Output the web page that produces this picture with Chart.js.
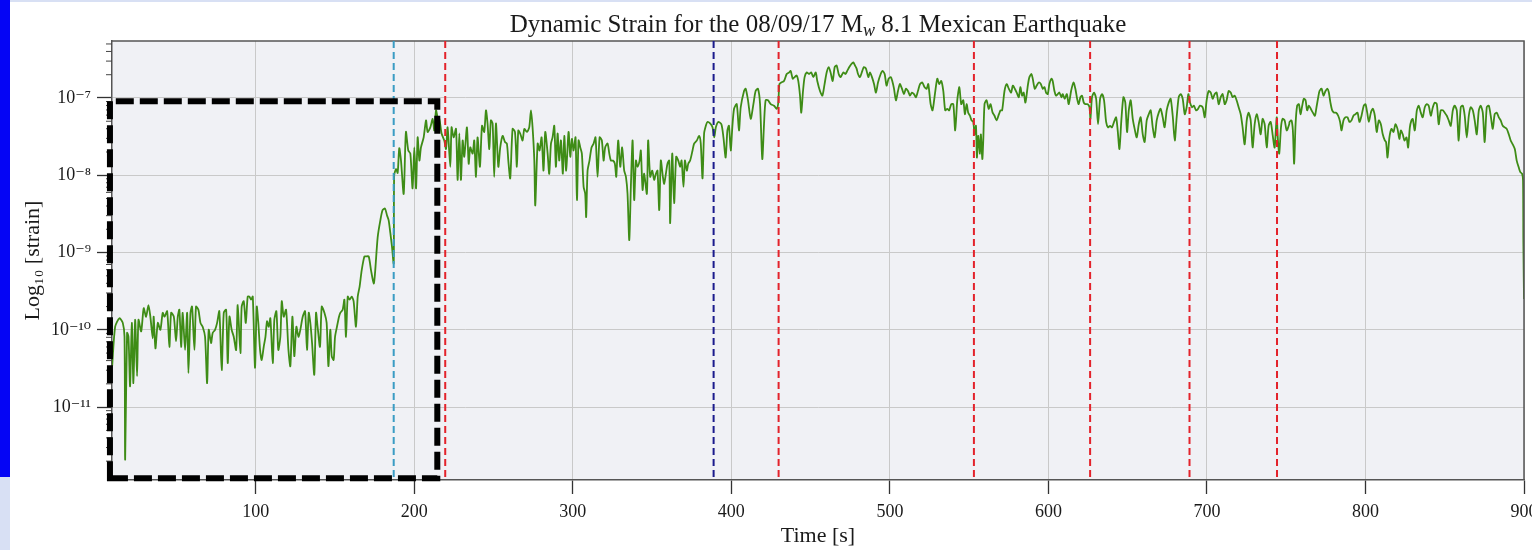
<!DOCTYPE html>
<html><head><meta charset="utf-8">
<script src="https://cdn.jsdelivr.net/npm/chart.js@4.4.1/dist/chart.umd.min.js"></script>
<style>
html,body{margin:0;padding:0;background:#fff;overflow:hidden;width:1532px;height:550px;}
#blue{position:absolute;left:0;top:0;width:10px;height:477px;background:#0505f5;}
#lav1{position:absolute;left:0;top:477px;width:10px;height:73px;background:#d8e0f4;}
#lav2{position:absolute;left:10px;top:0;width:1522px;height:2px;background:#d8e0f4;}
#c{position:absolute;left:0;top:0;}
</style></head>
<body>
<div id="blue"></div><div id="lav1"></div><div id="lav2"></div>
<canvas id="c" width="1545" height="550"></canvas>
<script>
// ---- data (time in s, log10 strain) ----
const timeA = [9.4,11.3,14.0,16.1,17.2,17.6,18.8,19.7,20.7,21.8,22.8,23.9,25.1,26.0,27.7,29.3,30.8,32.3,33.5,35.0,
35.6,36.7,38.2,39.8,41.3,42.4,44.1,45.5,46.6,48.3,49.7,50.8,51.8,52.9,53.9,55.4,56.7,57.5,58.8,59.8,
61.3,62.3,63.8,65.1,66.5,68.0,69.3,70.3,71.8,72.8,74.3,75.6,77.0,78.5,79.8,81.3,82.3,83.4,84.8,86.1,
87.6,88.6,90.3,91.1,92.4,93.7,94.9,96.0,97.0,98.1,99.5,100.6,101.6,102.7,103.7,105.0,106.1,107.1,108.2,109.2,
110.7,111.7,113.0,114.2,115.5,116.4,117.6,119.1,120.6,121.8,123.1,124.3,125.6,126.9,128.1,129.6,131.1,132.3,133.4,134.4,
135.5,136.9,138.0,139.0,140.5,141.6,143.3,144.7,145.8,147.0,147.9,149.1,150.0,151.2,152.5,153.3,154.8,155.9,156.9,158.0,
159.2,160.5,161.7,163.2,164.3,165.5,166.8,168.5,169.5,171.2,172.7,174.4,175.2,176.9,178.6,180.0,181.5,182.8,183.8,184.9,
185.9,187.0,187.3,188.5,189.5,190.5];
const strainA = [-10.47,-9.96,-9.85,-9.91,-10.09,-11.68,-10.04,-10.09,-10.73,-9.91,-10.69,-9.87,-10.60,-9.87,-10.02,-9.72,-9.83,-9.68,-9.83,-10.11,
-9.83,-10.24,-9.91,-10.00,-9.78,-9.83,-9.76,-10.22,-9.78,-9.83,-10.15,-9.83,-9.74,-10.22,-9.78,-10.26,-9.78,-10.56,-9.78,-9.70,
-10.26,-9.70,-9.74,-9.91,-9.96,-10.09,-10.69,-10.00,-10.17,-10.04,-10.00,-9.91,-9.76,-10.52,-9.78,-9.74,-10.43,-9.83,-10.00,-10.09,
-10.26,-9.68,-10.30,-9.70,-9.63,-9.91,-9.57,-9.57,-9.61,-9.57,-10.49,-9.70,-9.91,-10.26,-10.39,-10.22,-10.09,-9.89,-9.96,-9.85,
-10.43,-9.87,-9.76,-10.26,-10.09,-9.63,-9.83,-9.74,-10.26,-10.47,-9.83,-10.34,-9.96,-10.09,-10.00,-9.83,-9.76,-10.26,-9.78,-9.91,
-10.17,-10.58,-9.78,-9.96,-10.22,-9.70,-9.78,-9.91,-10.47,-10.00,-10.34,-10.39,-10.09,-9.96,-9.83,-9.78,-9.74,-9.61,-10.09,-9.57,
-9.61,-9.57,-9.63,-9.96,-9.57,-9.44,-9.23,-9.05,-9.05,-9.05,-9.23,-9.40,-9.27,-8.80,-8.58,-8.45,-8.43,-8.52,-8.58,-8.75,
-8.92,-9.14,-8.00,-7.92,-7.97,-7.65];

const timeB = [191.6,193.3,194.7,196.2,197.5,198.9,200.0,201.1,202.1,203.2,
204.2,205.9,207.4,208.4,210.1,211.6,212.6,213.7,214.7,215.8,
217.2,218.9,220.0,221.0,222.7,223.5,224.8,226.3,227.3,228.4,
229.4,230.5,231.5,233.2,234.3,235.3,236.8,237.8,238.9,239.9,
241.4,242.7,244.1,245.2,246.2,247.3,248.3,249.4,250.4,251.5,
253.0,254.2,255.7,257.2,258.4,259.3,260.5,262.0,263.5,264.7,
265.6,266.8,268.3,269.4,271.0,272.5,273.6,274.6,275.7,276.3,
277.8,279.0,280.3,281.5,282.6,284.1,285.1,286.2,287.2,288.3,
289.3,290.4,291.4,292.5,293.7,294.6,295.8,297.3,298.4,299.4,
300.5,301.7,302.6,303.6,304.7,305.7,306.8,307.8,308.4,309.3,
310.5,311.8,313.1,314.3,315.6,316.9,318.3,319.4,320.4,321.9,
323.0,324.0,325.3,326.5,327.4,328.6,329.9,331.1,332.4,333.5,
334.5,335.6,336.6,337.7,338.7,339.8,340.8,342.1,342.9,344.0,
345.0,346.7,347.5,348.8,350.1,351.3,352.4,353.4,354.5,355.5,
356.8,357.6,358.7,359.7,360.8,361.4,362.7,363.9,365.2,366.5,
367.7,368.6,369.8,370.7,371.9,372.8,374.0,375.5,376.5,378.2,
379.7,380.7,381.8,382.8,383.9,384.9,386.6,388.1,389.2,390.2,
391.7];
const strainB = [-7.81,-8.24,-7.44,-7.68,-7.72,-8.17,-7.64,-8.17,-7.51,-7.81,
-7.64,-7.51,-7.29,-7.44,-7.38,-7.27,-7.42,-7.16,-7.25,-7.27,
-7.46,-7.55,-7.66,-7.38,-7.89,-7.38,-7.51,-7.40,-8.06,-7.46,
-8.06,-7.55,-7.76,-7.38,-7.85,-7.64,-7.72,-7.55,-8.02,-7.51,
-7.89,-7.36,-7.44,-7.16,-7.33,-7.66,-7.29,-7.33,-8.02,-7.33,
-7.89,-7.64,-7.49,-7.57,-7.59,-7.81,-8.04,-7.40,-7.44,-7.89,
-7.42,-7.46,-7.55,-7.40,-7.44,-7.38,-7.16,-7.38,-7.81,-8.39,
-7.59,-7.68,-7.51,-7.94,-7.44,-7.72,-7.98,-7.59,-7.51,-7.36,
-7.89,-7.46,-7.81,-7.55,-7.98,-7.49,-7.94,-7.44,-7.76,-7.53,
-7.68,-7.51,-8.32,-7.55,-7.64,-7.72,-8.15,-8.24,-8.54,-7.94,
-7.81,-7.64,-7.59,-7.51,-8.02,-7.51,-7.55,-7.81,-7.64,-7.59,
-7.72,-7.81,-7.81,-7.85,-8.02,-7.55,-7.89,-7.64,-7.94,-8.02,
-8.24,-8.84,-8.15,-7.55,-8.32,-7.81,-7.89,-7.81,-7.68,-8.19,
-7.98,-8.24,-7.55,-8.02,-7.94,-8.06,-7.98,-7.94,-8.45,-7.81,
-8.02,-8.11,-7.98,-7.85,-7.81,-8.62,-7.72,-8.36,-7.76,-7.81,
-7.89,-7.81,-8.15,-7.81,-7.94,-7.85,-7.81,-7.68,-7.59,-7.55,
-7.49,-7.59,-8.04,-7.46,-7.36,-7.31,-7.33,-7.38,-7.51,-7.38,
-7.31];

const timeC = [393.7,395.0,396.4,397.5,398.5,399.6,400.6,401.7,403.4,404.8,
405.9,408.0,409.0,410.5,412.2,413.9,415.3,416.8,418.1,419.5,
420.6,421.6,423.1,424.8,426.9,428.6,429.6,430.3,431.5,433.2,
434.9,436.4,437.4,438.7,439.9,441.2,442.2,443.3,444.1,445.2,
446.2,447.5,449.0,450.4,451.7,453.2,454.2,455.9,457.4,458.8,
460.1,461.4,462.6,463.9,465.2,466.4,467.7,468.9,470.6,471.9,
473.1,474.4,475.7,476.9,478.0,479.0,479.9,481.1,482.6,483.6,
484.9,486.4,487.4,488.7,490.0,491.2,492.5,494.2,495.4,496.7,
497.9,499.2,500.5,501.5,502.6,503.8,505.1,506.3,507.6,508.9,
510.1,511.4,512.7,513.9,515.2,516.4,517.7,519.0,520.4,521.9,
523.2,524.2,525.7,526.9,528.4,529.9,531.1,532.4,533.7,534.9,
536.2,537.4,538.7,540.0,541.2,542.5,543.8,545.0,546.3,547.3,
548.4,549.4,550.5,551.5,552.6,553.4,554.3,554.9,555.7,556.8,
557.4,558.3,558.9,559.7,561.0,562.3,563.5,564.8,566.0,567.3,
568.8,569.8];
const strainC = [-7.34,-7.51,-7.77,-7.42,-7.36,-7.68,-7.38,-7.14,-7.08,-7.42,
-7.12,-6.91,-6.88,-7.03,-7.27,-7.08,-6.91,-6.88,-7.08,-7.79,
-7.34,-7.03,-7.03,-7.08,-7.10,-7.14,-7.06,-6.82,-6.80,-6.78,
-6.69,-6.67,-6.65,-6.75,-6.73,-6.71,-6.78,-6.97,-7.19,-6.91,
-6.73,-6.67,-6.69,-6.67,-6.73,-6.67,-6.78,-6.91,-6.97,-6.82,
-6.67,-6.60,-6.67,-6.78,-6.60,-6.58,-6.69,-6.73,-6.67,-6.69,
-6.65,-6.60,-6.56,-6.54,-6.58,-6.62,-6.69,-6.73,-6.65,-6.60,
-6.62,-6.73,-6.67,-6.73,-6.82,-6.93,-6.80,-6.69,-6.65,-6.69,
-6.84,-6.75,-6.73,-6.78,-6.88,-7.03,-6.91,-6.82,-6.88,-6.95,
-6.88,-6.91,-6.97,-6.93,-6.95,-6.99,-6.91,-6.82,-6.80,-6.86,
-6.88,-6.82,-7.08,-7.16,-6.95,-6.75,-6.82,-6.78,-6.91,-7.16,
-7.14,-7.16,-7.08,-7.08,-7.42,-7.03,-6.86,-7.08,-7.03,-7.21,
-7.08,-7.19,-7.23,-7.29,-7.31,-7.47,-7.36,-7.77,-7.49,-7.72,
-7.47,-7.79,-7.55,-7.08,-7.03,-7.14,-7.08,-7.19,-7.23,-7.29,
-7.21,-7.16];

const timeD = [570.8,572.3,573.7,575.0,576.5,577.5,578.8,580.0,581.3,582.3,
583.4,584.4,585.5,587.0,588.0,589.3,590.1,591.4,592.6,593.9,
595.2,596.4,597.5,598.5,599.6,600.6,601.9,602.7,603.8,604.8,
605.9,606.9,608.2,609.0,610.3,611.6,612.8,614.3,615.8,617.0,
618.1,619.1,620.2,621.2,622.3,623.3,624.8,625.9,626.5,627.5,
628.8,630.1,631.3,632.6,633.8,635.1,636.4,637.6,638.9,640.1,
641.4,642.7,643.7,644.8,646.0,647.3,648.5,649.6,650.7,651.9,
653.2,654.4,655.7,657.0,658.2,659.5,660.7,662.0,663.3,664.5,
665.8,667.0,668.3,669.6,670.8,672.1,673.3,674.6,675.9,677.1,
678.4,679.7,680.9,682.2,683.4,684.7,686.0,687.2,688.3,689.3,
690.6,691.8,693.1,694.4,695.6,697.3,698.6,699.8,701.1,702.4,
703.6,704.9,706.1,707.4,708.7,709.9,711.2,712.4,713.7,715.0,
716.2,717.5,718.7,720.0,721.3,722.5,723.8,725.1,726.3,727.6,
728.8,730.1,731.4,732.6,733.9,735.1,736.4,737.7,738.9,740.2,
741.4,742.7,744.0,744.8,745.6,746.7,747.7,749.0,750.3,751.9];
const strainD = [-7.16,-6.91,-6.82,-6.88,-6.93,-6.84,-6.88,-6.93,-6.99,-6.86,
-6.97,-6.93,-7.06,-6.84,-6.73,-6.69,-6.75,-6.88,-6.84,-6.80,
-6.82,-6.88,-6.86,-6.93,-6.95,-6.82,-6.75,-6.78,-6.91,-6.97,
-6.95,-6.93,-6.99,-6.95,-7.01,-6.95,-7.08,-6.91,-6.80,-6.88,
-7.01,-7.08,-6.99,-6.97,-7.06,-7.08,-7.08,-7.12,-7.27,-6.99,
-6.93,-7.01,-7.34,-7.01,-6.95,-7.03,-7.31,-7.38,-7.36,-7.38,
-7.31,-7.25,-7.42,-7.66,-7.29,-6.99,-7.06,-7.44,-7.16,-7.03,
-7.27,-7.40,-7.51,-7.34,-7.25,-7.47,-7.57,-7.29,-7.21,-7.16,
-7.38,-7.51,-7.29,-7.19,-7.14,-7.25,-7.38,-7.16,-7.06,-7.01,
-7.23,-7.55,-7.25,-6.99,-6.95,-7.01,-7.21,-7.12,-6.95,-7.06,
-7.12,-7.10,-7.16,-7.14,-7.10,-7.12,-7.25,-7.03,-6.91,-6.93,
-7.01,-6.95,-6.93,-7.08,-6.99,-6.95,-7.08,-7.03,-6.91,-6.93,
-6.99,-6.97,-7.03,-7.12,-7.21,-7.38,-7.60,-7.29,-7.19,-7.29,
-7.64,-7.34,-7.21,-7.31,-7.47,-7.27,-7.34,-7.64,-7.36,-7.31,
-7.47,-7.64,-7.25,-7.55,-7.72,-7.38,-7.27,-7.29,-7.42,-7.34];

const timeE = [752.1,753.3,754.2,755.0,755.9,756.9,758.0,759.0,760.1,761.1,
762.2,763.2,764.3,765.5,766.8,768.1,769.1,770.2,771.0,772.3,
773.5,774.8,776.0,776.9,777.9,779.0,780.2,781.5,782.8,784.0,
784.9,786.1,787.4,788.7,789.9,791.2,792.4,793.7,795.0,796.2,
797.5,798.9,800.0,801.1,802.1,803.4,804.6,805.9,807.1,808.4,
809.7,810.9,812.2,813.0,813.9,815.1,816.4,817.7,818.9,820.2,
821.4,822.3,823.5,824.6,825.9,826.9,828.0,829.0,829.8,831.1,
832.4,833.6,834.9,836.1,837.4,838.7,839.9,841.2,842.5,843.7,
845.0,846.2,847.5,848.8,850.0,851.3,852.5,853.8,855.1,856.3,
857.6,858.8,860.1,861.4,862.6,863.9,865.2,866.4,867.7,868.9,
870.2,871.5,872.7,874.0,875.2,876.5,877.8,879.0,880.3,881.5,
882.8,884.1,885.3,886.6,887.9,889.1,890.4,891.6,892.9,894.2,
895.4,896.7,897.7,898.8,899.4,899.6,900.0];
const strainE = [-7.31,-7.29,-7.42,-7.85,-7.34,-7.10,-7.08,-7.21,-7.10,-7.01,
-7.03,-7.16,-7.10,-7.14,-7.19,-7.23,-7.12,-6.99,-6.91,-6.88,
-6.97,-6.91,-6.88,-6.93,-7.06,-7.16,-7.19,-7.19,-7.23,-7.31,
-7.42,-7.29,-7.25,-7.25,-7.31,-7.29,-7.23,-7.21,-7.19,-7.31,
-7.23,-7.10,-7.08,-7.19,-7.31,-7.19,-7.14,-7.23,-7.44,-7.29,
-7.34,-7.47,-7.55,-7.57,-7.77,-7.51,-7.40,-7.44,-7.34,-7.40,
-7.53,-7.42,-7.47,-7.55,-7.51,-7.64,-7.38,-7.29,-7.27,-7.42,
-7.16,-7.10,-7.19,-7.25,-7.12,-7.08,-7.10,-7.23,-7.12,-7.06,
-7.08,-7.34,-7.16,-7.16,-7.19,-7.23,-7.29,-7.36,-7.16,-7.10,
-7.16,-7.55,-7.12,-7.10,-7.23,-7.51,-7.23,-7.12,-7.16,-7.29,
-7.47,-7.16,-7.10,-7.19,-7.57,-7.12,-7.10,-7.23,-7.40,-7.21,
-7.19,-7.25,-7.29,-7.36,-7.38,-7.40,-7.47,-7.55,-7.60,-7.66,
-7.81,-7.90,-7.96,-7.98,-8.07,-8.85,-9.60];

const xTicks = [100,200,300,400,500,600,700,800,900];
const yTickExp = [-11,-10,-9,-8,-7];
const yTickLabels = ['10\u207B\u00B9\u00B9','10\u207B\u00B9\u2070','10\u207B\u2079','10\u207B\u2078','10\u207B\u2077'];
const cyanLines = [187.0];
const redLines = [219.5, 429.8, 553.0, 626.3, 689.0, 744.2];
const navyLines = [388.8];
const boxTime = [8.0, 214.5];
const boxStrain = [1.2e-12, 9.1e-8];
const titleParts = ['Dynamic Strain for the 08/09/17 M', 'w', ' 8.1 Mexican Earthquake'];

// ---- build ----
const segs = [[timeA,strainA],[timeB,strainB],[timeC,strainC],[timeD,strainD],[timeE,strainE]];
const points = [];
segs.forEach(([t,s]) => { const n = Math.min(t.length, s.length); for (let i=0;i<n;i++) points.push({x:t[i], y:Math.pow(10, s[i])}); });

const SERIF = '"Liberation Serif", "DejaVu Serif", "Times New Roman", serif';
Chart.defaults.font.family = SERIF;

const decor = {
  id: 'decor',
  beforeDraw(chart) {
    const {ctx, chartArea: a} = chart;
    ctx.save();
    ctx.fillStyle = '#f0f1f5';
    ctx.fillRect(a.left, a.top, a.right - a.left, a.bottom - a.top);
    ctx.restore();
  },
  afterDatasetsDraw(chart) {
    const {ctx, chartArea: a, scales: {x, y}} = chart;
    ctx.save();
    // top and right spines
    ctx.strokeStyle = '#555'; ctx.lineWidth = 1.5;
    ctx.beginPath(); ctx.moveTo(a.left, a.top); ctx.lineTo(a.right, a.top); ctx.lineTo(a.right, a.bottom); ctx.stroke();
    // minor y ticks
    ctx.lineWidth = 1; ctx.strokeStyle = '#444';
    for (let d = -12; d <= -7; d++) for (let m = 2; m <= 9; m++) {
      const v = m * Math.pow(10, d);
      if (v < y.min || v > y.max) continue;
      const py = y.getPixelForValue(v);
      ctx.beginPath(); ctx.moveTo(a.left - 6, py); ctx.lineTo(a.left, py); ctx.stroke();
    }
    // vertical dashed markers
    const vline = (t, color) => {
      const px = x.getPixelForValue(t);
      ctx.strokeStyle = color; ctx.lineWidth = 2; ctx.setLineDash([7, 4]);
      ctx.beginPath(); ctx.moveTo(px, a.top); ctx.lineTo(px, a.bottom); ctx.stroke();
    };
    cyanLines.forEach(t => vline(t, '#3a9cc4'));
    navyLines.forEach(t => vline(t, '#1b1b8c'));
    redLines.forEach(t => vline(t, '#e3232b'));
    // black dashed box
    const x0 = x.getPixelForValue(boxTime[0]), x1 = x.getPixelForValue(boxTime[1]);
    const yb = y.getPixelForValue(boxStrain[0]), yt = y.getPixelForValue(boxStrain[1]);
    ctx.strokeStyle = '#000'; ctx.lineWidth = 6; ctx.setLineDash([18, 6]);
    ctx.beginPath(); ctx.moveTo(x0, yb); ctx.lineTo(x1, yb); ctx.lineTo(x1, yt); ctx.lineTo(x0, yt); ctx.closePath(); ctx.stroke();
    ctx.restore();
  },
  afterDraw(chart) {
    const {ctx, chartArea: a} = chart;
    ctx.save();
    const big = '25px ' + SERIF, small = 'italic 18px ' + SERIF;
    ctx.font = big; const w0 = ctx.measureText(titleParts[0]).width, w2 = ctx.measureText(titleParts[2]).width;
    ctx.font = small; const w1 = ctx.measureText(titleParts[1]).width;
    let cx = (a.left + a.right) / 2 - (w0 + w1 + w2) / 2;
    const base = 32;
    ctx.fillStyle = '#1a1a1a'; ctx.textBaseline = 'alphabetic'; ctx.textAlign = 'left';
    ctx.font = big; ctx.fillText(titleParts[0], cx, base); cx += w0;
    ctx.font = small; ctx.fillText(titleParts[1], cx, base + 4); cx += w1;
    ctx.font = big; ctx.fillText(titleParts[2], cx, base);
    ctx.restore();
  }
};

new Chart(document.getElementById('c'), {
  type: 'line',
  data: { datasets: [{
    data: points,
    borderColor: 'rgb(62,140,22)',
    borderWidth: 1.8,
    pointRadius: 0,
    tension: 0.25,
    fill: false
  }]},
  options: {
    responsive: false,
    animation: false,
    devicePixelRatio: 1,
    layout: { padding: { left: 0, right: 21, top: 41, bottom: 0 } },
    plugins: { legend: { display: false }, tooltip: { enabled: false }, title: { display: false } },
    scales: {
      x: {
        type: 'linear', min: 9.3, max: 900,
        afterBuildTicks: s => { s.ticks = xTicks.map(v => ({ value: v })); },
        afterFit: s => { s.height = 70; s.paddingLeft = 0; s.paddingRight = 0; },
        ticks: { color: '#1a1a1a', font: { size: 18 }, padding: 7, maxRotation: 0, autoSkip: false },
        grid: { color: '#c9c9c9', lineWidth: 1, tickLength: 14, tickColor: '#333', tickWidth: 1.3 },
        border: { display: true, color: '#555', width: 1.5 },
        title: { display: true, text: 'Time [s]', color: '#1a1a1a', font: { size: 22 }, padding: { top: 0, bottom: 1 } }
      },
      y: {
        type: 'logarithmic', min: 1.14e-12, max: 5.46e-7,
        afterBuildTicks: s => { s.ticks = yTickExp.map(e => ({ value: Math.pow(10, e) })); },
        afterFit: s => { s.width = 112; s.paddingTop = 0; s.paddingBottom = 0; },
        ticks: {
          color: '#1a1a1a', font: { size: 18 }, padding: 6, autoSkip: false,
          callback: v => { const e = Math.round(Math.log10(v)); const i = yTickExp.indexOf(e); return i >= 0 ? yTickLabels[i] : ''; }
        },
        grid: { color: '#c9c9c9', lineWidth: 1, tickLength: 15, tickColor: '#333', tickWidth: 1.3 },
        border: { display: true, color: '#555', width: 1.5 },
        title: { display: true, text: 'Log\u2081\u2080 [strain]', color: '#1a1a1a', font: { size: 22 }, padding: { top: 20, bottom: 0 } }
      }
    }
  },
  plugins: [decor]
});
</script>
</body></html>
